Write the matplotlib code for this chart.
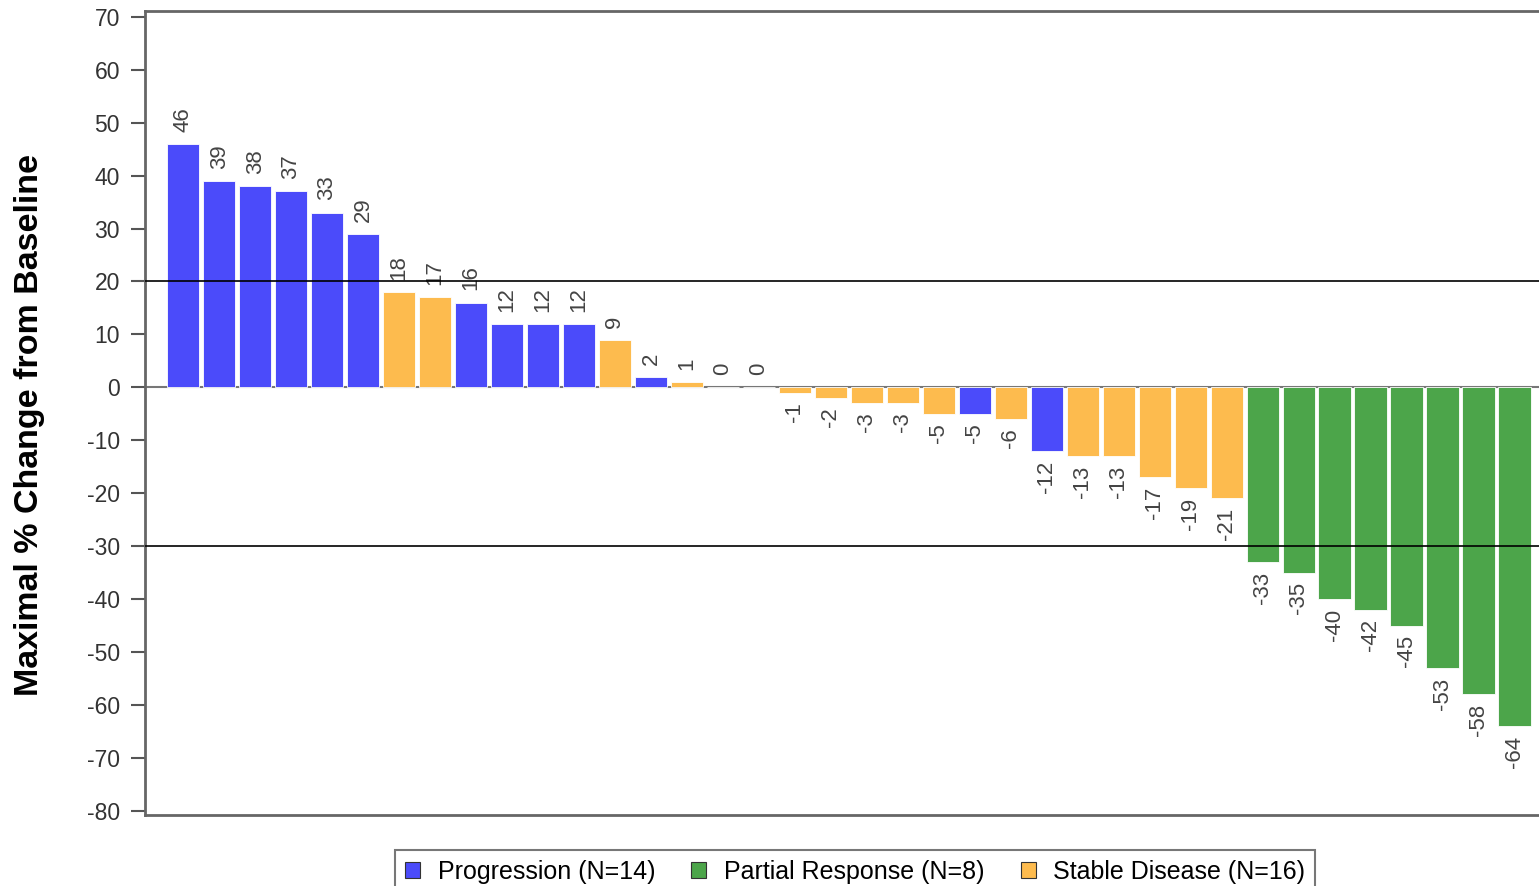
import matplotlib
matplotlib.use("Agg")
import matplotlib.pyplot as plt
from matplotlib.patches import Patch

values = [46, 39, 38, 37, 33, 29, 18, 17, 16, 12, 12, 12, 9, 2, 1, 0, 0,
          -1, -2, -3, -3, -5, -5, -6, -12, -13, -13, -17, -19, -21,
          -33, -35, -40, -42, -45, -53, -58, -64]
groups = ["PD"] * 6 + ["SD"] * 2 + ["PD"] * 4 + ["SD", "PD", "SD", "PD", "SD"] + \
         ["SD"] * 5 + ["PD", "SD", "PD"] + ["SD"] * 5 + ["PR"] * 8
colors = {"PD": "#4b4bfa", "PR": "#4ca54a", "SD": "#fdbb4e"}
legend_labels = [("PD", "Progression (N=14)"),
                 ("PR", "Partial Response (N=8)"),
                 ("SD", "Stable Disease (N=16)")]
yticks = list(range(-80, 71, 10))

plt.rcParams["font.family"] = ["Liberation Sans", "DejaVu Sans"]

fig = plt.figure(figsize=(15.39, 8.86), dpi=100)
ax = fig.add_axes([145 / 1539, 1 - 815 / 886, 1420 / 1539, 804 / 886])

x = list(range(len(values)))
ax.bar(x, values, width=0.9, color=[colors[g] for g in groups],
       edgecolor="white", linewidth=0.6, zorder=2)

for xi, v in zip(x, values):
    if v >= 0:
        ax.text(xi, v + 2.3, str(v), rotation=90, ha="center", va="bottom",
                fontsize=16, color="#444444")
    else:
        ax.text(xi, v - 1.8, str(v), rotation=90, ha="center", va="top",
                fontsize=16, color="#444444")

ax.axhline(0, color="#777777", lw=1.5, zorder=1)
ax.axhline(20, color="black", lw=1.2, zorder=3)
ax.axhline(-30, color="black", lw=1.2, zorder=3)

ax.set_xlim(-1.06, 38.4)
ax.set_ylim(-80.8, 71.1)
ax.set_yticks(yticks)
ax.set_yticklabels([str(t) for t in yticks], fontsize=16.5, color="#333333")
ax.set_xticks([])
ax.tick_params(axis="y", direction="out", length=10, width=1.5, color="#555555", pad=8)
for side in ["left", "bottom", "top"]:
    ax.spines[side].set_color("#666666")
    ax.spines[side].set_linewidth(2)
ax.spines["right"].set_visible(False)

ax.set_ylabel("Maximal % Change from Baseline", fontsize=24.5, fontweight="bold")
ax.yaxis.set_label_coords(-0.0704, 0.485)

handles = [Patch(facecolor=colors[k], edgecolor="#333333", linewidth=0.8, label=lab)
           for k, lab in legend_labels]
leg = fig.legend(handles=handles, loc="upper left", bbox_to_anchor=(395 / 1539, 1 - 850 / 886),
                 ncol=3, fontsize=18, frameon=True, fancybox=False, handlelength=0.6,
                 handleheight=0.6, handletextpad=0.7, columnspacing=1.45,
                 borderpad=0.4, borderaxespad=0)
leg.get_frame().set_edgecolor("#555555")
leg.get_frame().set_linewidth(1.5)

fig.savefig("out.png", dpi=100, facecolor="white")
